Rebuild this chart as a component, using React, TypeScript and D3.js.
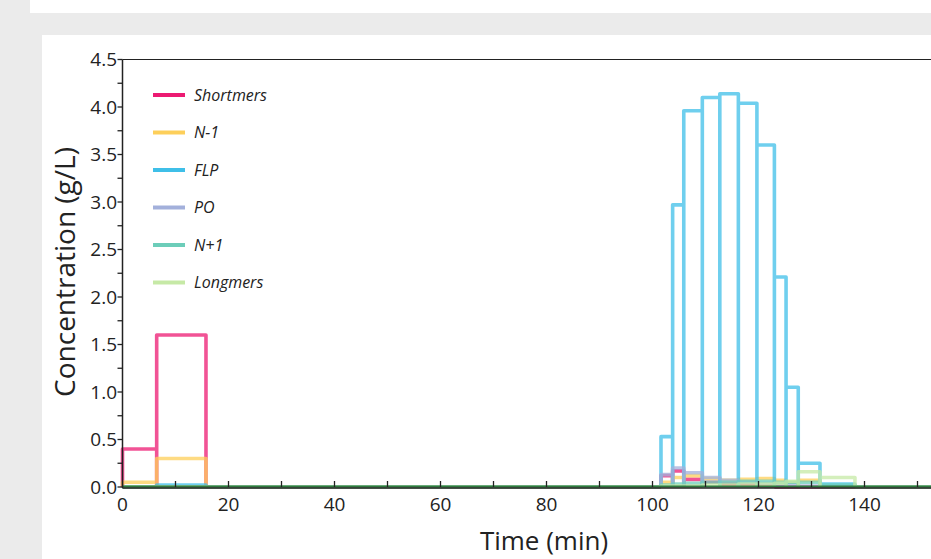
import React from "react";
import * as d3 from "d3";

const seriesNames = ["Shortmers", "N-1", "FLP", "PO", "N+1", "Longmers"];
const seriesColors = ["#ec1a72", "#fdcf5a", "#3fbfe8", "#a3b0db", "#6ccdb9", "#c6e9a6"];

const fractionTimes = [0, 6.45, 15.75, 101.6, 103.8, 105.9, 109.4, 112.7, 116.2, 119.7, 123.0, 125.2, 127.5, 131.6, 138.2, 160];

const shortmers = [0.40, 1.60, 0, 0.12, 0.17, 0.08, 0.05, 0.03, 0.02, 0.01, 0, 0, 0, 0, 0];
const nMinus1 = [0.05, 0.30, 0, 0.05, 0.10, 0.12, 0.09, 0.07, 0.08, 0.09, 0.07, 0.05, 0.07, 0, 0];
const flp = [0, 0.02, 0, 0.53, 2.97, 3.96, 4.10, 4.14, 4.04, 3.60, 2.21, 1.05, 0.25, 0.03, 0];
const po = [0, 0, 0, 0.13, 0.20, 0.15, 0.10, 0.07, 0.05, 0.04, 0.03, 0.02, 0.01, 0, 0];
const nPlus1 = [0, 0, 0, 0.02, 0.03, 0.04, 0.05, 0.05, 0.06, 0.06, 0.05, 0.05, 0.05, 0.02, 0];
const longmers = [0, 0, 0, 0.01, 0.01, 0.01, 0.02, 0.02, 0.03, 0.03, 0.04, 0.06, 0.16, 0.10, 0];

const seriesValues = [shortmers, nMinus1, flp, po, nPlus1, longmers];

const xTicks = [0, 20, 40, 60, 80, 100, 120, 140];
const yTicks = [0, 0.5, 1.0, 1.5, 2.0, 2.5, 3.0, 3.5, 4.0, 4.5];

export default function App() {
  const W = 931, H = 559;
  const x = d3.scaleLinear().domain([0, 160]).range([122.5, 122.5 + 160 * 5.3]);
  const y = d3.scaleLinear().domain([0, 4.5]).range([487, 59.5]);
  const font = "'Open Sans', 'Noto Sans', sans-serif";

  const minorX = d3.range(0, 161, 10);
  const minorY = d3.range(0, 4.51, 0.25);

  const rectPath = (vals: number[]) => {
    const p = d3.path();
    vals.forEach((v, i) => {
      const x0 = x(fractionTimes[i]);
      const x1 = x(fractionTimes[i + 1]);
      p.moveTo(x0, y(0));
      p.lineTo(x0, y(v));
      p.lineTo(x1, y(v));
      p.lineTo(x1, y(0));
    });
    return p.toString();
  };

  return (
    <svg width={W} height={H} style={{ position: "absolute", left: 0, top: 0 }}>
      <rect x={0} y={0} width={W} height={H} fill="#ebebeb" />
      <rect x={30} y={0} width={W - 30} height={13} fill="#ffffff" />
      <rect x={42} y={35} width={W - 42} height={H - 35} fill="#ffffff" />
      <defs>
        <clipPath id="plotclip">
          <rect x={110} y={50} width={W - 110} height={445} />
        </clipPath>
      </defs>

      {/* series */}
      <g clipPath="url(#plotclip)">
        {seriesValues.map((vals, si) => (
          <path
            key={si}
            d={rectPath(vals)}
            fill="none"
            stroke={seriesColors[si]}
            strokeWidth={3.6}
            strokeOpacity={0.75}
            strokeLinejoin="round"
          />
        ))}
        <line x1={x(0)} x2={W} y1={y(0) - 0.5} y2={y(0) - 0.5} stroke="#2f7a3f" strokeWidth={2} />
      </g>

      {/* axes frame */}
      <line x1={x(0)} x2={W} y1={y(4.5)} y2={y(4.5)} stroke="#222" strokeWidth={1.2} />
      <line x1={x(0)} x2={x(0)} y1={y(4.5)} y2={y(0) + 1} stroke="#222" strokeWidth={1.5} />
      <line x1={x(0)} x2={W} y1={y(0) + 1} y2={y(0) + 1} stroke="#222" strokeWidth={1.5} />

      {minorX.map((t) => (
        <line key={"mx" + t} x1={x(t)} x2={x(t)} y1={y(0)} y2={y(0) - 6} stroke="#222" strokeWidth={1.3} />
      ))}
      {minorY.map((v) => (
        <line key={"my" + v} x1={x(0) - 5} x2={x(0)} y1={y(v)} y2={y(v)} stroke="#222" strokeWidth={1.3} />
      ))}

      {xTicks.map((t) => (
        <text key={"xt" + t} x={x(t)} y={511} textAnchor="middle" fontFamily={font} fontSize={19} fill="#222">
          {t}
        </text>
      ))}
      {yTicks.map((v) => (
        <text key={"yt" + v} x={117} y={y(v) + 6.5} textAnchor="end" fontFamily={font} fontSize={19} fill="#222">
          {v.toFixed(1)}
        </text>
      ))}

      <text x={544} y={550} textAnchor="middle" fontFamily={font} fontSize={26} fill="#222">
        Time (min)
      </text>
      <text
        transform={`translate(75, 272) rotate(-90)`}
        textAnchor="middle"
        fontFamily={font}
        fontSize={28}
        fill="#222"
      >
        Concentration (g/L)
      </text>

      {/* legend */}
      {seriesNames.map((name, i) => {
        const ly = 95 + i * 37.5;
        return (
          <g key={name}>
            <line x1={153} x2={185} y1={ly} y2={ly} stroke={seriesColors[i]} strokeWidth={4} />
            <text x={194} y={ly + 5.5} fontFamily={font} fontSize={16} fontStyle="italic" fill="#222">
              {name}
            </text>
          </g>
        );
      })}
    </svg>
  );
}
